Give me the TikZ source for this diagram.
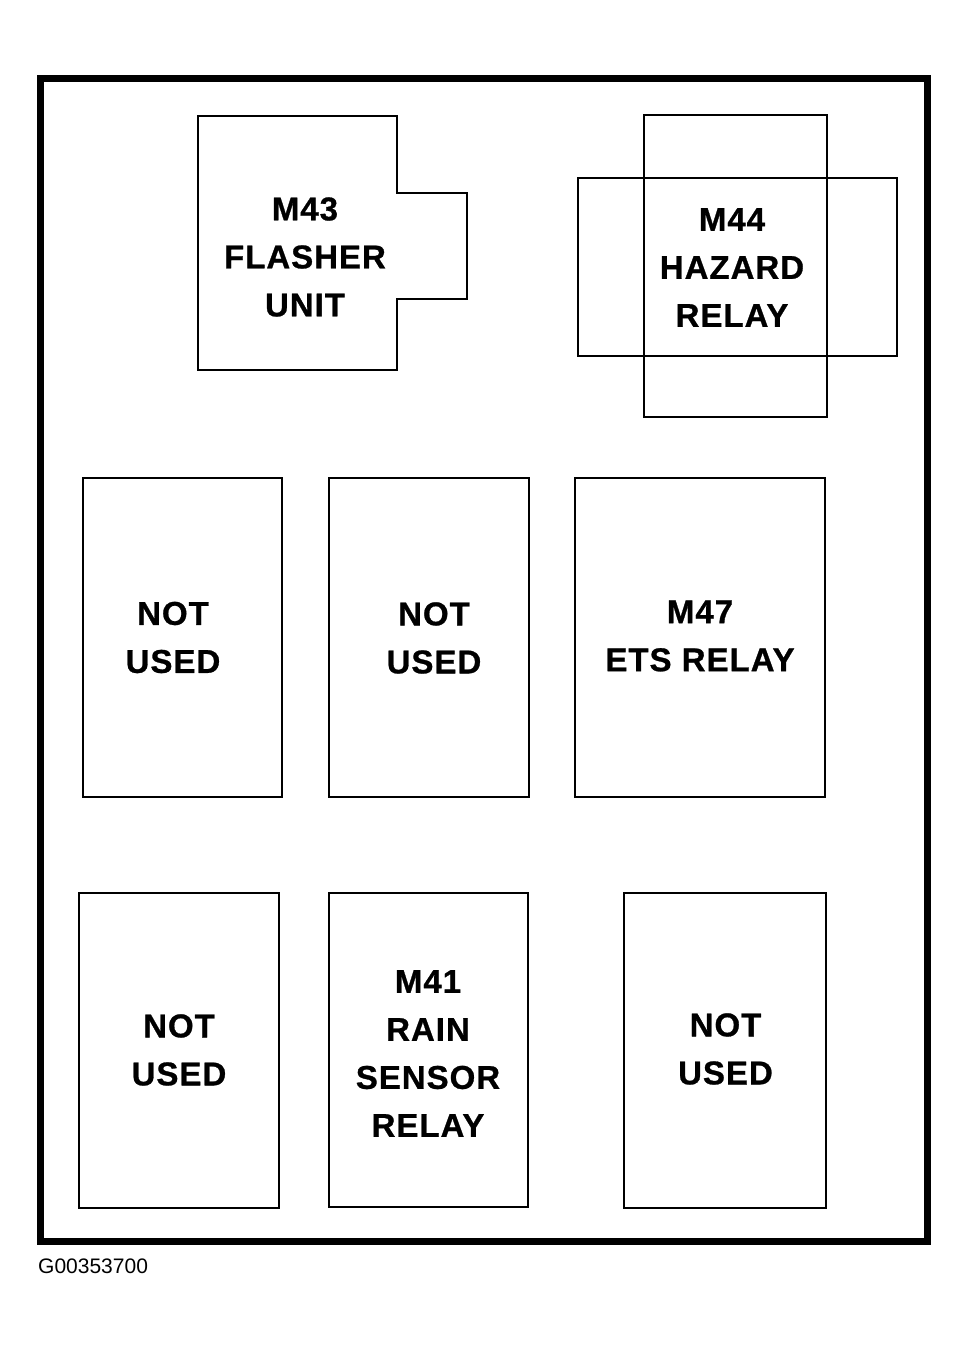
\documentclass[tikz,border=0pt]{standalone}
\usepackage{fontspec}
\setmainfont{Liberation Sans}
\newfontfamily\heavyfont[FakeBold=0.8,LetterSpace=3]{Liberation Sans Bold}
\begin{document}
\begin{tikzpicture}[x=1pt,y=-1pt,
  frame/.style={line width=7pt,line join=miter},
  box/.style={line width=2.6pt,line join=miter},
  lbl/.style={align=center,inner sep=0pt,font=\heavyfont\fontsize{33}{48}\selectfont},
  code/.style={inner sep=0pt,anchor=base west,font=\fontsize{21}{26}\selectfont}]
\useasboundingbox (0,0) rectangle (968,1349);
% outer frame
\draw[frame] (40.5,78.5) rectangle (927.5,1241);
% M43 flasher unit
\draw[box] (198,116) -- (397,116) -- (397,193) -- (467,193) -- (467,299) -- (397,299) -- (397,370) -- (198,370) -- cycle;
\node[lbl] (m43) at (305,257) {M43\\FLASHER\\UNIT};
% M44 hazard relay
\draw[box] (644,115) rectangle (827,417);
\draw[box] (578,178) rectangle (897,356);
\node[lbl] (m44) at (732,267.5) {M44\\HAZARD\\RELAY};
% row 2
\draw[box] (83,478) rectangle (282,797);
\node[lbl] (n1) at (173,637.5) {NOT\\USED};
\draw[box] (329,478) rectangle (529,797);
\node[lbl] (n2) at (434,638) {NOT\\USED};
\draw[box] (575,478) rectangle (825,797);
\node[lbl] (m47) at (700,636) {M47\\ETS RELAY};
% row 3
\draw[box] (79,893) rectangle (279,1208);
\node[lbl] (n3) at (179,1050) {NOT\\USED};
\draw[box] (329,893) rectangle (528,1207);
\node[lbl] (m41) at (428,1053.5) {M41\\RAIN\\SENSOR\\RELAY};
\draw[box] (624,893) rectangle (826,1208);
\node[lbl] (n4) at (725.5,1049) {NOT\\USED};
% figure code
\node[code] (fig) at (38,1273) {G00353700};
\end{tikzpicture}
\end{document}
